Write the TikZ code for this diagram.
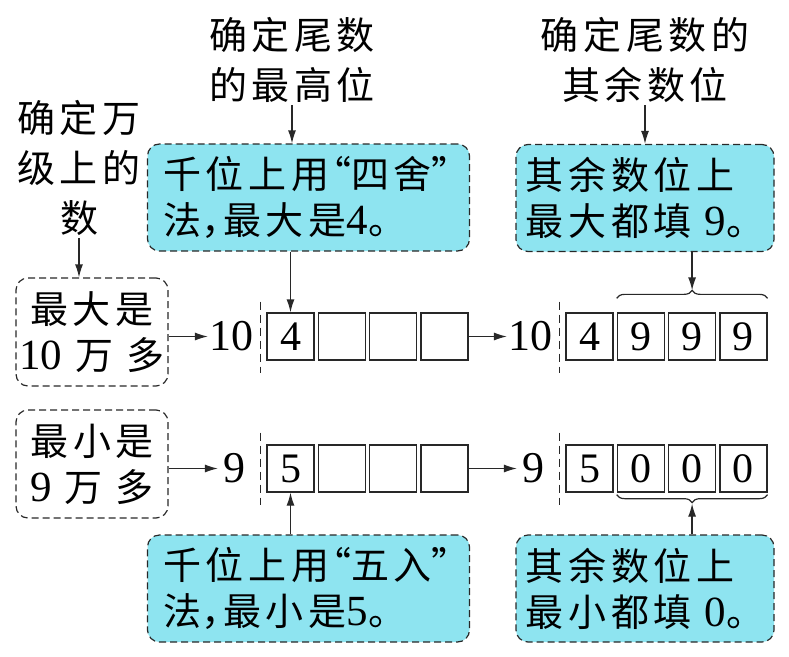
\documentclass[tikz,border=0pt]{standalone}
\usepackage{fontspec}
\setmainfont{Liberation Serif}
\newfontfamily\zhfont[LetterSpace=12]{Noto Sans CJK SC}
\newfontfamily\numfont{Liberation Serif}
\newcommand{\nm}[1]{{\numfont\fontsize{43}{46}\selectfont #1}}
\newcommand{\zhlq}{\makebox[22pt][r]{“}}
\newcommand{\zhrq}{\makebox[22pt][l]{”}}
\newcommand{\zhcomma}{\makebox[22pt][l]{，}}
\usetikzlibrary{%
  positioning,
  arrows.meta,
  decorations.pathreplacing
}
\definecolor{tipblue}{RGB}{142,228,240}
\definecolor{inkgray}{RGB}{40,40,40}
\tikzstyle{digitbox}=[draw=inkgray, rectangle, line width=1.3pt, minimum width=47pt, minimum height=47pt, inner sep=0pt, font=\numfont\fontsize{42}{42}\selectfont]
\tikzstyle{numtext}=[inner sep=1pt, font=\numfont\fontsize{44}{44}\selectfont]
\tikzstyle{notebox}=[draw=inkgray, line width=1.2pt, dash pattern=on 7pt off 4pt, rounded corners=12pt, minimum width=152pt, minimum height=108pt, align=center, font=\zhfont\fontsize{38}{46}\selectfont]
\tikzstyle{tipbox}=[notebox, fill=tipblue, align=left, minimum height=107pt]
\tikzstyle{headtext}=[align=center, inner sep=2pt, font=\zhfont\fontsize{38}{50}\selectfont]
\tikzstyle{sepline}=[draw=inkgray, line width=1.2pt, dash pattern=on 8pt off 5pt]
\tikzstyle{bracket}=[draw=inkgray, line width=1.2pt, decorate, decoration={brace, amplitude=8pt}]

\begin{document}
\begin{tikzpicture}[x=1pt, y=-1pt, node distance=3pt, >={Latex[length=13pt,width=8pt]}]
  \useasboundingbox (0,0) rectangle (789,656);
  % headings
  \node[headtext] (h0) at (79,168) {确定万\\级上的\\数};
  \node[headtext] (h1) at (292,60) {确定尾数\\的最高位};
  \node[headtext] (h2) at (645,60) {确定尾数的\\其余数位};
  % blue notes
  \node[tipbox, minimum width=322pt] (t1) at (308.5,197.5) {千位上用\zhlq 四舍\zhrq\\法\zhcomma 最大是\nm{4}。};
  \node[tipbox, minimum width=258pt] (t2) at (645,198) {其余数位上\\最大都填 \nm{9}。};
  \node[tipbox, minimum width=322pt] (t3) at (308.5,588.5) {千位上用\zhlq 五入\zhrq\\法\zhcomma 最小是\nm{5}。};
  \node[tipbox, minimum width=258pt] (t4) at (645,588.5) {其余数位上\\最小都填 \nm{0}。};
  % first row
  \node[notebox] (m1) at (92,332) {最大是\\\nm{10} 万 多};
  \node[digitbox] (a1) at (290.5,336.5) {4};
  \node[digitbox, right=of a1] (a2) {};
  \node[digitbox, right=of a2] (a3) {};
  \node[digitbox, right=of a3] (a4) {};
  \node[numtext, left=12pt of a1] (n1) {10};
  \node[digitbox] (b1) at (589.5,336.5) {4};
  \node[digitbox, right=of b1] (b2) {9};
  \node[digitbox, right=of b2] (b3) {9};
  \node[digitbox, right=of b3] (b4) {9};
  \node[numtext, left=12pt of b1] (n2) {10};
  % second row
  \node[notebox] (m2) at (92,464) {最小是\\\nm{9} 万 多};
  \node[digitbox] (c1) at (290.5,468.5) {5};
  \node[digitbox, right=of c1] (c2) {};
  \node[digitbox, right=of c2] (c3) {};
  \node[digitbox, right=of c3] (c4) {};
  \node[numtext, left=20pt of c1] (n3) {9};
  \node[digitbox] (d1) at (589.5,468.5) {5};
  \node[digitbox, right=of d1] (d2) {0};
  \node[digitbox, right=of d2] (d3) {0};
  \node[digitbox, right=of d3] (d4) {0};
  \node[numtext, left=20pt of d1] (n4) {9};
  % dashed separators
  \draw[sepline] ([xshift=-6pt,yshift=35pt]a1.west) -- ([xshift=-6pt,yshift=-36pt]a1.west);
  \draw[sepline] ([xshift=-6pt,yshift=35pt]b1.west) -- ([xshift=-6pt,yshift=-36pt]b1.west);
  \draw[sepline] ([xshift=-6pt,yshift=36pt]c1.west) -- ([xshift=-6pt,yshift=-36pt]c1.west);
  \draw[sepline] ([xshift=-6pt,yshift=36pt]d1.west) -- ([xshift=-6pt,yshift=-36pt]d1.west);
  % braces
  \draw[bracket] ([yshift=14pt]b2.north west) -- ([yshift=14pt]b4.north east);
  \draw[bracket] ([yshift=-2pt]d4.south east) -- ([yshift=-2pt]d2.south west);
  % arrows
  \draw[->, inkgray, line width=1.3pt] (h0.south) -- (h0.south |- m1.north);
  \draw[->, inkgray, line width=1.3pt] (h1.south) -- (h1.south |- t1.north);
  \draw[->, inkgray, line width=1.3pt] (h2.south) -- (h2.south |- t2.north);
  \draw[->, inkgray, line width=1.3pt] (a1 |- t1.south) -- (a1.north);
  \draw[->, inkgray, line width=1.3pt] (b3 |- t2.south) -- ([yshift=22pt]b3.north);
  \draw[->, inkgray, line width=1.3pt] (c1 |- t3.north) -- (c1.south);
  \draw[->, inkgray, line width=1.3pt] (d3 |- t4.north) -- ([yshift=-11pt]d3.south);
  \draw[->, inkgray, line width=1.3pt] (m1.east |- n1) -- (n1);
  \draw[->, inkgray, line width=1.3pt] (a4) -- (n2);
  \draw[->, inkgray, line width=1.3pt] (m2.east |- n3) -- ([xshift=-4pt]n3.west);
  \draw[->, inkgray, line width=1.3pt] (c4) -- ([xshift=-4pt]n4.west);
\end{tikzpicture}
\end{document}
